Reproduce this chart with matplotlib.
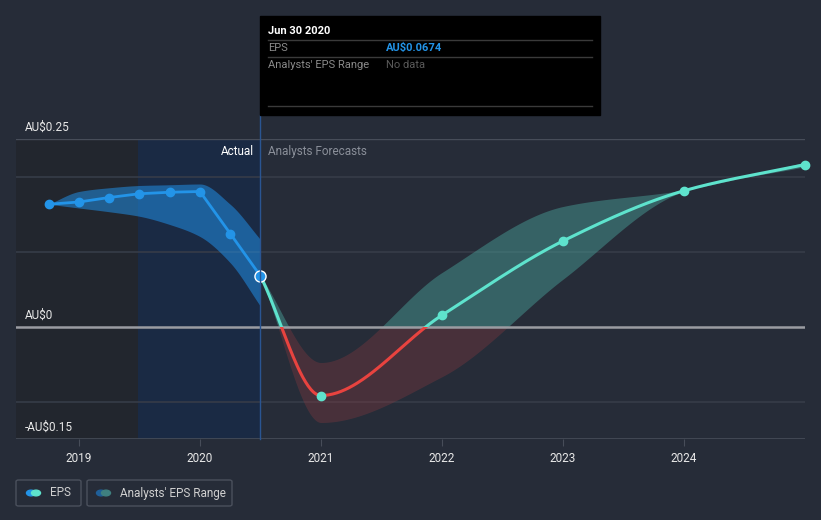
import numpy as np
import matplotlib
matplotlib.use("Agg")
from matplotlib import pyplot as plt
from matplotlib.patches import Rectangle, FancyBboxPatch, Circle

plt.rcParams['font.family'] = ['Roboto', 'DejaVu Sans']

# past EPS (quarterly)
past_x = [2018.75, 2019.0, 2019.25, 2019.5, 2019.75, 2020.0, 2020.25, 2020.5]
past_eps = [0.163, 0.166, 0.172, 0.177, 0.179, 0.180, 0.124, 0.0674]
past_hi = [0.163, 0.180, 0.185, 0.188, 0.189, 0.190, 0.163, 0.116]
past_lo = [0.163, 0.158, 0.153, 0.147, 0.136, 0.120, 0.085, 0.027]

# analyst forecasts
fc_x = [2020.5, 2021.0, 2022.0, 2023.0, 2024.0, 2025.0]
fc_eps = [0.0674, -0.092, 0.015, 0.114, 0.181, 0.216]
fc_hi = [0.0674, -0.048, 0.072, 0.160, 0.182, 0.219]
fc_lo = [0.0674, -0.128, -0.067, 0.063, 0.180, 0.213]

year_ticks = [2019, 2020, 2021, 2022, 2023, 2024]

BG = '#262c38'
BLUE = '#2394e8'
TEAL = '#5ee3cd'
RED = '#e8433f'


def pchip(x, y, xs):
    x = np.asarray(x, float)
    y = np.asarray(y, float)
    h = np.diff(x)
    d = np.diff(y) / h
    m = np.zeros_like(y)
    m[0] = d[0]
    m[-1] = d[-1]
    for k in range(1, len(x) - 1):
        if d[k - 1] * d[k] <= 0:
            m[k] = 0
        else:
            w1 = 2 * h[k] + h[k - 1]
            w2 = h[k] + 2 * h[k - 1]
            m[k] = (w1 + w2) / (w1 / d[k - 1] + w2 / d[k])
    out = np.empty_like(xs)
    for i, xv in enumerate(xs):
        k = min(max(np.searchsorted(x, xv) - 1, 0), len(x) - 2)
        t = (xv - x[k]) / h[k]
        h00 = 2 * t**3 - 3 * t**2 + 1
        h10 = t**3 - 2 * t**2 + t
        h01 = -2 * t**3 + 3 * t**2
        h11 = t**3 - t**2
        out[i] = h00 * y[k] + h10 * h[k] * m[k] + h01 * y[k + 1] + h11 * h[k] * m[k + 1]
    return out


W, H = 821, 520
fig = plt.figure(figsize=(W / 100, H / 100), dpi=100, facecolor=BG)
ax = fig.add_axes([16 / W, 81 / H, (805 - 16) / W, 300 / H])
ax.set_facecolor(BG)
ax.set_xlim(2018.48, 2025.0)
ax.set_ylim(-0.15, 0.25)
for s in ax.spines.values():
    s.set_visible(False)

# shaded past regions
ax.axvspan(2018.48, 2019.49, color='#22262e', lw=0, zorder=0)
ax.axvspan(2019.49, 2020.5, color='#1a2a44', lw=0, zorder=0)

for g in [0.2, 0.1, -0.1]:
    ax.axhline(g, color='#363c48', lw=1.2, zorder=1)
ax.axhline(0.25, color='#474d59', lw=1, zorder=1)
ax.axhline(-0.15, color='#474d59', lw=1.2, zorder=1)
ax.axhline(0, color='#9a9ca2', lw=1.8, zorder=3)

# past band + line
xs = np.linspace(past_x[0], past_x[-1], 200)
ax.fill_between(xs, pchip(past_x, past_lo, xs), pchip(past_x, past_hi, xs),
                color='#2196f3', alpha=0.5, lw=0, zorder=2)
ax.plot(past_x, past_eps, color=BLUE, lw=2, marker='o', ms=6, zorder=5)
ax.plot(past_x[-1], past_eps[-1], 'o', color=BLUE, mec='white', mew=1, ms=8, zorder=7)

# forecast band (split at zero)
xf = np.linspace(fc_x[0], fc_x[-1], 400)
lo = pchip(fc_x, fc_lo, xf)
hi = pchip(fc_x, fc_hi, xf)
ax.fill_between(xf, np.maximum(lo, 0), np.maximum(hi, 0), color='#4aa59c', alpha=0.45, lw=0, zorder=2)
ax.fill_between(xf, np.minimum(lo, 0), np.minimum(hi, 0), color='#8a3a40', alpha=0.35, lw=0, zorder=2)

# forecast line, teal above zero, red below
yf = pchip(fc_x, fc_eps, xf)
l1, = ax.plot(xf, yf, color=TEAL, lw=2.2, zorder=4)
l1.set_clip_path(Rectangle((2018, 0), 10, 1, transform=ax.transData))
l2, = ax.plot(xf, yf, color=RED, lw=2.2, zorder=4)
l2.set_clip_path(Rectangle((2018, -1), 10, 1, transform=ax.transData))
ax.plot(fc_x[1:], fc_eps[1:], 'o', color=TEAL, ms=6, zorder=6, clip_on=False)

ax.text(2020.45, 0.233, 'Actual', color='white', fontsize=8.5, ha='right', va='center')
ax.text(2020.56, 0.233, 'Analysts Forecasts', color='#8a8f99', fontsize=8.5, ha='left', va='center')

ax.set_yticks([])
ax.set_xticks(year_ticks)
ax.set_xticklabels([str(y) for y in year_ticks], color='#e8e8e8', fontsize=8.5)
ax.tick_params(axis='x', length=5, color='#474d59', pad=4)


def fx(px):
    return px / W


def fy(py):
    return 1 - py / H


# y labels
for txt, py in [('AU$0.25', 127), ('AU$0', 315), ('-AU$0.15', 427)]:
    fig.text(fx(25), fy(py), txt, color='#e8e8e8', fontsize=8.5, va='center', ha='left')

# vertical divider
fig.add_artist(plt.Line2D([fx(260), fx(260)], [fy(115), fy(439)], color='#2a5592', lw=1))

# tooltip
fig.add_artist(Rectangle((fx(260), fy(115)), 340 / W, 99 / H, transform=fig.transFigure,
                         color='black', zorder=10))
fig.text(fx(268), fy(31), 'Jun 30 2020', color='white', fontsize=8, weight='bold', va='center', zorder=11)
for py in [40, 57, 106]:
    fig.add_artist(plt.Line2D([fx(268), fx(592)], [fy(py), fy(py)], color='#3a3a3a', lw=1, zorder=11))
fig.text(fx(268), fy(48), 'EPS', color='#8a8a8a', fontsize=8, va='center', zorder=11)
fig.text(fx(386), fy(48), 'AU$0.0674', color='#2394e8', fontsize=8, weight='bold', va='center', zorder=11)
fig.text(fx(268), fy(65), "Analysts' EPS Range", color='#8a8a8a', fontsize=8, va='center', zorder=11)
fig.text(fx(386), fy(65), 'No data', color='#5a5a5a', fontsize=8, va='center', zorder=11)

# legend
for x0, w in [(16, 65), (87, 145)]:
    fig.add_artist(FancyBboxPatch((fx(x0), fy(506)), w / W, 26 / H, boxstyle='round,pad=0,rounding_size=0.003',
                                  transform=fig.transFigure, fc='none', ec='#4a505c', lw=1))
for cx, c1, c2 in [(31, BLUE, TEAL), (101, '#1f5f99', '#3f8080')]:
    fig.add_artist(Circle((fx(cx), fy(493)), 4.5 / W, transform=fig.transFigure, color=c1))
    fig.add_artist(Circle((fx(cx + 5), fy(493)), 4.5 / W, transform=fig.transFigure, color=c2))
fig.text(fx(50), fy(493), 'EPS', color='#d0d0d0', fontsize=8.5, va='center')
fig.text(fx(120), fy(493), "Analysts' EPS Range", color='#d0d0d0', fontsize=8.5, va='center')

fig.savefig('out.png', dpi=100, facecolor=BG)
